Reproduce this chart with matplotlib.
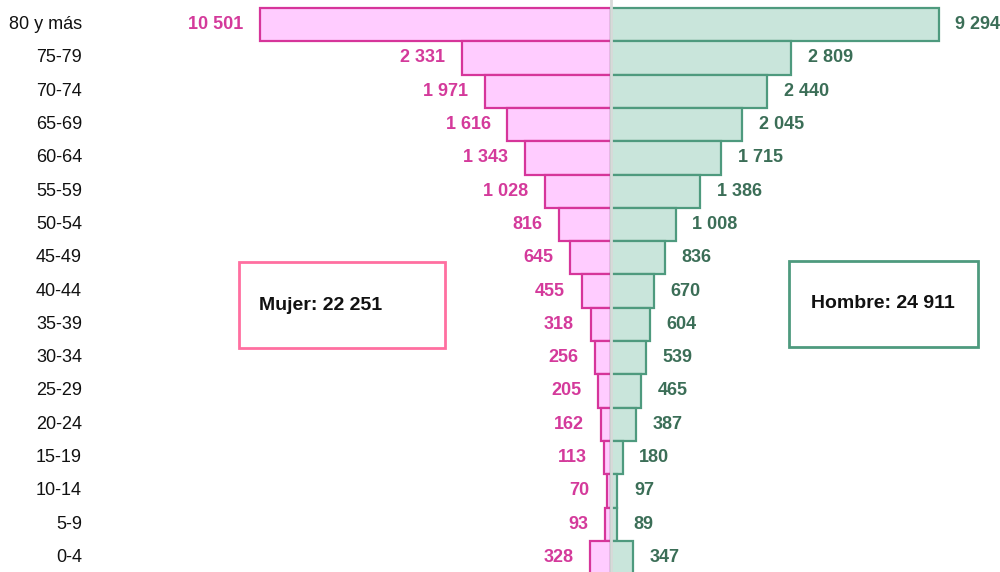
import numpy as np
import matplotlib
matplotlib.use('Agg')
import matplotlib.pyplot as plt
from matplotlib.patches import Rectangle

plt.rcParams['font.family'] = ['Liberation Sans', 'DejaVu Sans']

# Datos: grupos de edad (de arriba hacia abajo) y población por sexo
grupos = ['80 y más', '75-79', '70-74', '65-69', '60-64', '55-59', '50-54', '45-49',
          '40-44', '35-39', '30-34', '25-29', '20-24', '15-19', '10-14', '5-9', '0-4']
mujeres = [10501, 2331, 1971, 1616, 1343, 1028, 816, 645, 455, 318, 256, 205, 162, 113, 70, 93, 328]
hombres = [9294, 2809, 2440, 2045, 1715, 1386, 1008, 836, 670, 604, 539, 465, 387, 180, 97, 89, 347]
total_mujer = 22251
total_hombre = 24911

# La barra de 80 y más se recorta en el gráfico original
tope_mujer = 5480
tope_hombre = 5110

rosa_fondo = '#FFCCFF'
rosa_borde = '#D6359A'
rosa_texto = '#D43A9B'
verde_fondo = '#C9E5DB'
verde_borde = '#4E9A7E'
verde_texto = '#3B6E57'


def fmt(v):
    return '{:,}'.format(v).replace(',', ' ')


fig = plt.figure(figsize=(10, 5.72), dpi=100)
ax = fig.add_axes([0, 0, 1, 1])

y = np.arange(len(grupos))
izq = np.minimum(mujeres, tope_mujer)
der = np.minimum(hombres, tope_hombre)

ax.barh(y, -izq, height=1.0, color=rosa_fondo, edgecolor=rosa_borde, linewidth=1.6, zorder=2)
ax.barh(y, der, height=1.0, color=verde_fondo, edgecolor=verde_borde, linewidth=1.6, zorder=2)
ax.axvline(0, color='#D9D9D9', linewidth=2, zorder=3)

for i in range(len(grupos)):
    ax.text(-izq[i] - 260, y[i], fmt(mujeres[i]), ha='right', va='center',
            fontsize=13, fontweight='bold', color=rosa_texto)
    ax.text(der[i] + 260, y[i], fmt(hombres[i]), ha='left', va='center',
            fontsize=13, fontweight='bold', color=verde_texto)
    ax.text(0.082, y[i], grupos[i], transform=ax.get_yaxis_transform(),
            ha='right', va='center', fontsize=13, color='#111111')

escala = 0.0641  # px por persona
ax.set_xlim(-611 / escala, 389 / escala)
ax.set_ylim(16 + (572 - 557.5) / 33.3, -0.5 - 8 / 33.3)
ax.axis('off')

# Cuadros con totales
W, H = 1000, 572
fig.patches.append(Rectangle((239 / W, 1 - 348 / H), 206 / W, 86 / H, transform=fig.transFigure,
                             fill=False, edgecolor='#FF6FA0', linewidth=2))
fig.patches.append(Rectangle((789 / W, 1 - 347 / H), 189 / W, 86 / H, transform=fig.transFigure,
                             fill=False, edgecolor=verde_borde, linewidth=2))
fig.text(259 / W, 1 - 305 / H, 'Mujer: ' + fmt(total_mujer), ha='left', va='center',
         fontsize=14, fontweight='bold', color='#111111')
fig.text(883 / W, 1 - 304 / H, 'Hombre: ' + fmt(total_hombre), ha='center', va='center',
         fontsize=14, fontweight='bold', color='#111111')

fig.savefig('out.png', dpi=100)
